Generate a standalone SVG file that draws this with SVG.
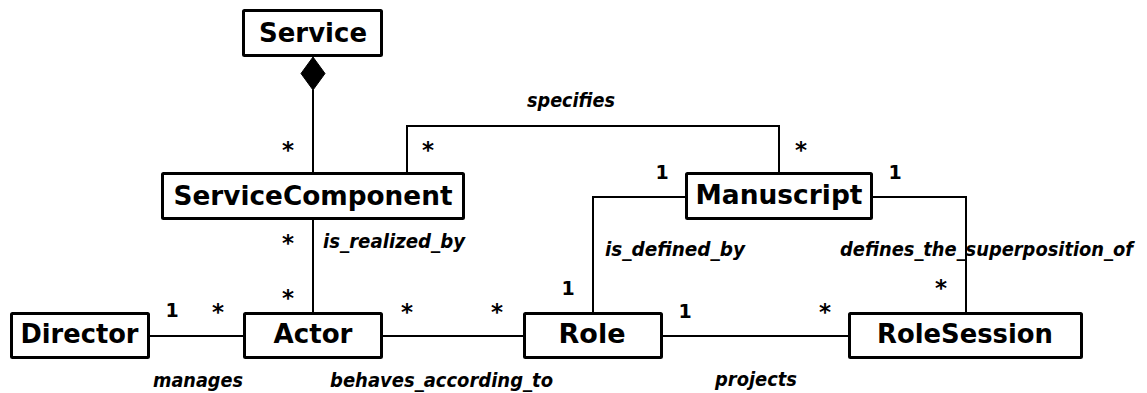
<svg xmlns="http://www.w3.org/2000/svg" width="1147" height="393" viewBox="0 0 1147 393">
<style>
.box{fill:#fff;stroke:#000;stroke-width:3}
.cls{font-family:"DejaVu Sans",Verdana,sans-serif;font-weight:bold;font-size:27px;text-anchor:middle;fill:#000}
.con{fill:none;stroke:#000;stroke-width:2}
.lbl{font-family:"DejaVu Sans",Verdana,sans-serif;font-weight:bold;font-style:italic;font-size:19px;fill:#000}
.mul{font-family:"DejaVu Sans",Verdana,sans-serif;font-weight:bold;font-size:19px;text-anchor:middle;fill:#000}
.ast{font-family:"DejaVu Sans",Verdana,sans-serif;font-weight:bold;font-size:23px;text-anchor:middle;fill:#000}
</style>
<rect width="1147" height="393" fill="#fff"/>
<g id="connectors">
<line class="con" x1="313" y1="90" x2="313" y2="172"/>
<polygon points="313,57 325,73.5 313,90 301,73.5" fill="#000" stroke="#000" stroke-width="1"/>
<polyline class="con" points="407,172 407,126 779,126 779,172"/>
<line class="con" x1="313" y1="220" x2="313" y2="312"/>
<polyline class="con" points="685,197 593,197 593,312"/>
<polyline class="con" points="873,197 966,197 966,312"/>
<line class="con" x1="150" y1="336" x2="243" y2="336"/>
<line class="con" x1="383" y1="336" x2="523" y2="336"/>
<line class="con" x1="663" y1="336" x2="848" y2="336"/>
<text class="lbl" x="527" y="107" textLength="88" lengthAdjust="spacingAndGlyphs">specifies</text>
<text class="lbl" x="323" y="248" textLength="142" lengthAdjust="spacingAndGlyphs">is_realized_by</text>
<text class="lbl" x="605" y="256" textLength="140" lengthAdjust="spacingAndGlyphs">is_defined_by</text>
<text class="lbl" x="840" y="256" textLength="293" lengthAdjust="spacingAndGlyphs">defines_the_superposition_of</text>
<text class="lbl" x="153" y="387" textLength="90" lengthAdjust="spacingAndGlyphs">manages</text>
<text class="lbl" x="330" y="387" textLength="223" lengthAdjust="spacingAndGlyphs">behaves_according_to</text>
<text class="lbl" x="715" y="386" textLength="82" lengthAdjust="spacingAndGlyphs">projects</text>
<text class="ast" x="288" y="158">*</text>
<text class="ast" x="428" y="158">*</text>
<text class="ast" x="801" y="158">*</text>
<text class="mul" x="662" y="179">1</text>
<text class="mul" x="895" y="179">1</text>
<text class="ast" x="288" y="251">*</text>
<text class="ast" x="288" y="306">*</text>
<text class="mul" x="172" y="317">1</text>
<text class="ast" x="218" y="320">*</text>
<text class="ast" x="407" y="320">*</text>
<text class="ast" x="497" y="320">*</text>
<text class="mul" x="568" y="295">1</text>
<text class="mul" x="685" y="318">1</text>
<text class="ast" x="825" y="320">*</text>
<text class="ast" x="941" y="296">*</text>
</g>
<g id="Service">
<rect class="box" x="243.5" y="10.5" width="138" height="45" rx="1"/>
<text class="cls" x="313" y="42" textLength="108" lengthAdjust="spacingAndGlyphs">Service</text>
</g>
<g id="ServiceComponent">
<rect class="box" x="162.5" y="173.5" width="301" height="45" rx="1"/>
<text class="cls" x="313" y="205" textLength="279" lengthAdjust="spacingAndGlyphs">ServiceComponent</text>
</g>
<g id="Manuscript">
<rect class="box" x="686.5" y="173.5" width="185" height="45" rx="1"/>
<text class="cls" x="779" y="204" textLength="167" lengthAdjust="spacingAndGlyphs">Manuscript</text>
</g>
<g id="Director">
<rect class="box" x="11.5" y="313.5" width="137" height="44" rx="1"/>
<text class="cls" x="79.5" y="343" textLength="118" lengthAdjust="spacingAndGlyphs">Director</text>
</g>
<g id="Actor">
<rect class="box" x="244.5" y="313.5" width="137" height="44" rx="1"/>
<text class="cls" x="313" y="343" textLength="79" lengthAdjust="spacingAndGlyphs">Actor</text>
</g>
<g id="Role">
<rect class="box" x="524.5" y="313.5" width="137" height="44" rx="1"/>
<text class="cls" x="592" y="343" textLength="67" lengthAdjust="spacingAndGlyphs">Role</text>
</g>
<g id="RoleSession">
<rect class="box" x="849.5" y="313.5" width="232" height="44" rx="1"/>
<text class="cls" x="965" y="343" textLength="176" lengthAdjust="spacingAndGlyphs">RoleSession</text>
</g>
</svg>
